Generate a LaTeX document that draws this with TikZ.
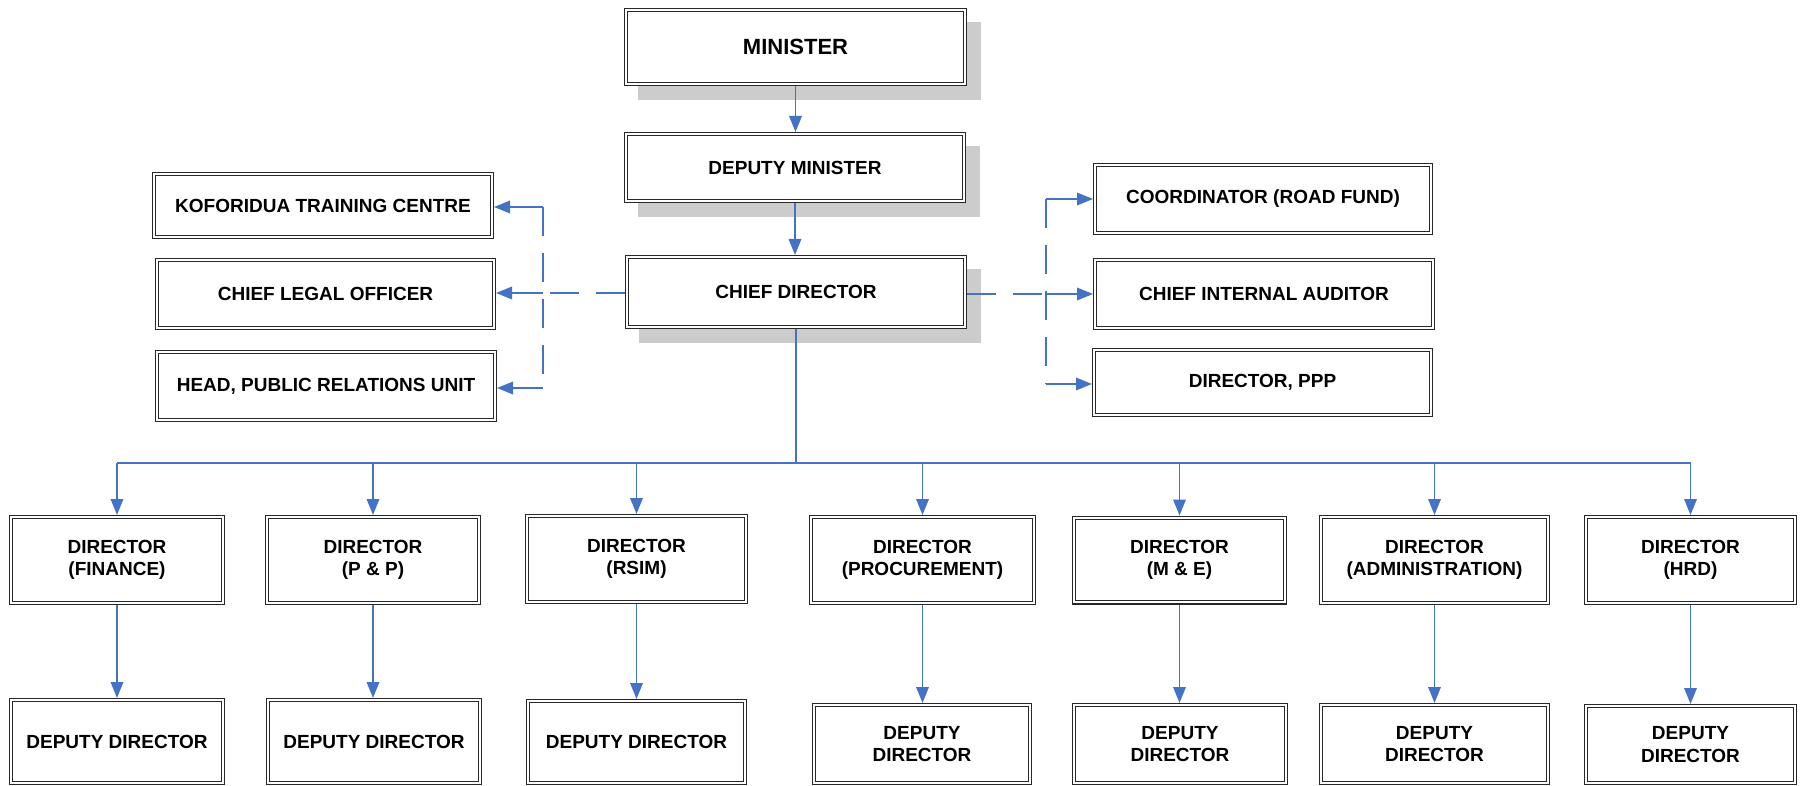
\documentclass[tikz,border=0pt]{standalone}
\usepackage{fontspec}
\setmainfont{Liberation Sans}
\usetikzlibrary{arrows.meta,backgrounds}
\definecolor{lineblue}{RGB}{68,114,196}
\definecolor{shadowgray}{RGB}{204,204,204}
\definecolor{edgec}{RGB}{40,40,40}
\begin{document}
\begin{tikzpicture}[x=1pt,y=-1pt,
  box/.style={draw=edgec, line width=1.1pt, double=white, double distance=2pt,
    fill=white, inner sep=0pt, outer sep=2.1pt, align=center,
    font=\fontsize{19}{22.5}\selectfont\bfseries},
  bot/.style={box},
  sz/.style 2 args={minimum width=#1pt-4.2pt, minimum height=#2pt-4.2pt},
  ln/.style={draw=lineblue, line width=1.8pt},
  arr/.style={ln, -{Triangle[length=16pt,width=12.5pt]}},
  dsh/.style={ln, dash pattern=on 29pt off 17pt}]
\useasboundingbox (0,0) rectangle (1802,786);

% top chain
\node[box,sz={343}{78},font=\fontsize{22}{26}\selectfont\bfseries] (min) at (795.5,47) {MINISTER};
\node[box,sz={342}{71}] (dmin) at (795,167.5) {DEPUTY MINISTER};
\node[box,sz={342}{74}] (cd) at (796,292) {CHIEF DIRECTOR};

\begin{scope}[on background layer]
  \foreach \n in {min,dmin,cd}
    \fill[shadowgray] ([shift={(14,14)}]\n.south west) rectangle ([shift={(14,14)}]\n.north east);
\end{scope}

% left staff
\node[box,sz={342}{67}] (kof) at (323,205.5) {KOFORIDUA TRAINING CENTRE};
\node[box,sz={341}{72}] (clo) at (325.5,294) {CHIEF LEGAL OFFICER};
\node[box,sz={342}{72}] (hpr) at (326,386) {HEAD, PUBLIC RELATIONS UNIT};

% right staff
\node[box,sz={340}{72}] (crf) at (1263,199) {COORDINATOR (ROAD FUND)};
\node[box,sz={342}{72}] (cia) at (1264,294) {CHIEF INTERNAL AUDITOR};
\node[box,sz={341}{69}] (ppp) at (1262.5,382.5) {DIRECTOR, PPP};

% directors
\node[bot,sz={216}{90}] (d1) at (117,560) {DIRECTOR\\(FINANCE)};
\node[bot,sz={216}{90}] (d2) at (373,560) {DIRECTOR\\(P \& P)};
\node[bot,sz={223}{90}] (d3) at (636.5,559) {DIRECTOR\\(RSIM)};
\node[bot,sz={227}{90}] (d4) at (922.5,560) {DIRECTOR\\(PROCUREMENT)};
\node[bot,sz={215}{89}] (d5) at (1179.5,560) {DIRECTOR\\(M \& E)};
\node[bot,sz={231}{90}] (d6) at (1434.5,560) {DIRECTOR\\(ADMINISTRATION)};
\node[bot,sz={213}{90}] (d7) at (1690.5,560) {DIRECTOR\\(HRD)};

% deputies
\node[bot,sz={216}{87}] (e1) at (117,741.5) {DEPUTY DIRECTOR};
\node[bot,sz={216}{87}] (e2) at (374,741.5) {DEPUTY DIRECTOR};
\node[bot,sz={221}{86}] (e3) at (636.5,742) {DEPUTY DIRECTOR};
\node[bot,sz={220}{82}] (e4) at (922,744) {DEPUTY\\DIRECTOR};
\node[bot,sz={216}{82}] (e5) at (1180,744) {DEPUTY\\DIRECTOR};
\node[bot,sz={231}{82}] (e6) at (1434.5,744) {DEPUTY\\DIRECTOR};
\node[bot,sz={213}{81}] (e7) at (1690.5,744.5) {DEPUTY\\DIRECTOR};

% top arrows
\draw[arr] (min.south) -- (min.south |- dmin.north);
\draw[arr] (dmin.south) -- (dmin.south |- cd.north);

% left dashed bracket
\coordinate (lt) at (543,207);
\coordinate (lm) at (543,293);
\coordinate (lb) at (543,388);
\draw[dsh] (cd.west |- lm) -- (lm);
\draw[dsh] (lt) -- (lb);
\draw[arr] (lt) -- (kof.east |- lt);
\draw[arr] (lm) -- (clo.east |- lm);
\draw[arr] (lb) -- (hpr.east |- lb);

% right dashed bracket
\coordinate (rt) at (1046,199);
\coordinate (rm) at (1046,294);
\coordinate (rb) at (1046,384);
\draw[dsh] (cd.east |- rm) -- (rm);
\draw[dsh] (rt) -- (rb);
\draw[arr] (rt) -- (crf.west |- rt);
\draw[arr] (rm) -- (cia.west |- rm);
\draw[arr] (rb) -- (ppp.west |- rb);

% bus
\coordinate (bus) at (796,463);
\draw[ln] (cd.south) -- (bus);
\draw[ln] (d1.north |- bus) -- (d7.north |- bus);
\foreach \d in {d1,d2,d3,d4,d5,d6,d7}
  \draw[arr] (\d.north |- bus) -- (\d.north);

% director to deputy
\foreach \d/\e in {d1/e1,d2/e2,d3/e3,d4/e4,d5/e5,d6/e6,d7/e7}
  \draw[arr] (\d.south) -- (\d.south |- \e.north);
\end{tikzpicture}
\end{document}
